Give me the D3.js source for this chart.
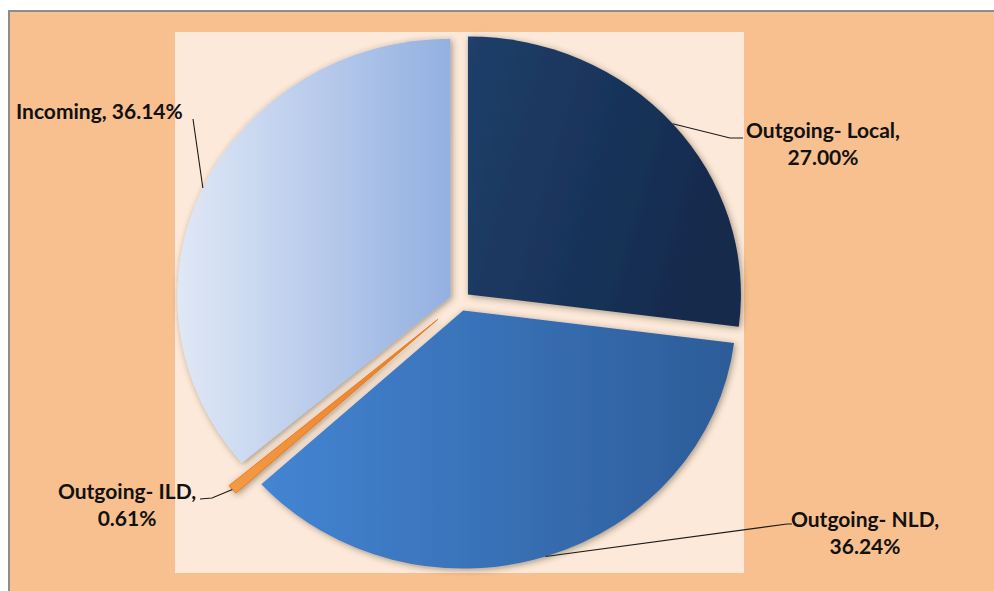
<html lang="en">
<head>
<meta charset="UTF-8">
<title>Call share pie</title>
<script src="https://d3js.org/d3.v7.min.js"></script>
<style>
  body { margin:0; background:#fff; font-family:Lato, "Open Sans", sans-serif; }
</style>
</head>
<body>
<div id="pie_chart"></div>
<script>
// data
const categories = ["Outgoing- Local", "Outgoing- NLD", "Outgoing- ILD", "Incoming"];
const shares = [27.00, 36.24, 0.61, 36.14];

// per-slice look (explode distance in px, gradient stops)
const explode = [10, 10, 28, 10];
const fills = [
  ["#203f6a", "#132a4c"],
  ["#4485d3", "#2c5c98"],
  ["#f49a45", "#ea7d22"],
  ["#e0e8f6", "#93b0e1"]
];
// label layout: text anchor point + elbow of leader line
const labelPos = [
  { x: 823, y: 138, elbow: [[730, 138], [743, 138]], lines: 2 },
  { x: 865, y: 527, elbow: [[787, 524], [792, 524]], lines: 2 },
  { x: 127, y: 499, elbow: [[212, 498], [200, 499]], lines: 2 },
  { x: 16,  y: 119, elbow: [[193, 119]], lines: 1 }
];

const W = 994, H = 591;
const cx = 460, cy = 301, ry = 258, sx = 273 / 258;

const svg = d3.select("#pie_chart")
  .append("svg")
  .attr("width", W)
  .attr("height", H);

const defs = svg.append("defs");

const shadow = defs.append("filter")
  .attr("id", "shadow")
  .attr("x", "-20%").attr("y", "-20%")
  .attr("width", "140%").attr("height", "140%");
shadow.append("feDropShadow")
  .attr("dx", 1.5).attr("dy", 1.5)
  .attr("stdDeviation", 3)
  .attr("flood-color", "#3a2a1a")
  .attr("flood-opacity", 0.45);

fills.forEach(function(f, i) {
  const g = defs.append("linearGradient")
    .attr("id", "grad" + i)
    .attr("x1", 0).attr("y1", 0)
    .attr("x2", 1).attr("y2", i == 0 ? 0.3 : 0);
  g.append("stop").attr("offset", "0%").attr("stop-color", f[0]);
  g.append("stop").attr("offset", "100%").attr("stop-color", f[1]);
});

// outer chart area
svg.append("rect")
  .attr("x", 9).attr("y", 11)
  .attr("width", W).attr("height", H)
  .attr("fill", "#f8c08f")
  .attr("stroke", "#8c8c8c")
  .attr("stroke-width", 2);

// plot area
svg.append("rect")
  .attr("x", 175).attr("y", 32)
  .attr("width", 569).attr("height", 541)
  .attr("fill", "#fce9d9");

const pie = d3.pie().sort(null).value(d => d);
const arcs = pie(shares);

const arc = d3.arc().innerRadius(0).outerRadius(ry);

const pieG = svg.append("g")
  .attr("transform", `translate(${cx},${cy}) scale(${sx},1)`);

pieG.selectAll("path")
  .data(arcs)
  .enter()
  .append("path")
    .attr("d", arc)
    .attr("transform", function(d, i) {
      const mid = (d.startAngle + d.endAngle) / 2;
      return `translate(${explode[i] * Math.sin(mid)},${-explode[i] * Math.cos(mid)})`;
    })
    .attr("fill", (d, i) => `url(#grad${i})`)
    .attr("stroke", (d, i) => i == 2 ? "#e0741c" : "none")
    .attr("stroke-width", 0.8)
    .style("filter", "url(#shadow)");

// point on the outer edge of a slice at its middle angle, in page coords
function edgePoint(d, i) {
  const mid = (d.startAngle + d.endAngle) / 2;
  const r = ry + explode[i];
  return [cx + sx * r * Math.sin(mid), cy - r * Math.cos(mid)];
}

const line = d3.line();
const labels = svg.append("g");

arcs.forEach(function(d, i) {
  const p = labelPos[i];
  const pts = [edgePoint(d, i)].concat(p.elbow);
  labels.append("path")
    .attr("d", line(pts))
    .attr("fill", "none")
    .attr("stroke", "#1a1a1a")
    .attr("stroke-width", 1.1);

  const pct = shares[i].toFixed(2) + "%";
  const t = labels.append("text")
    .attr("font-size", "21px")
    .attr("font-weight", "bold")
    .attr("fill", "#111");
  if (p.lines == 1) {
    t.attr("x", p.x).attr("y", p.y)
      .text(categories[i] + ", " + pct);
  } else {
    t.attr("text-anchor", "middle");
    t.append("tspan").attr("x", p.x).attr("y", p.y).text(categories[i] + ",");
    t.append("tspan").attr("x", p.x).attr("y", p.y + 27).text(pct);
  }
});
</script>
</body>
</html>
